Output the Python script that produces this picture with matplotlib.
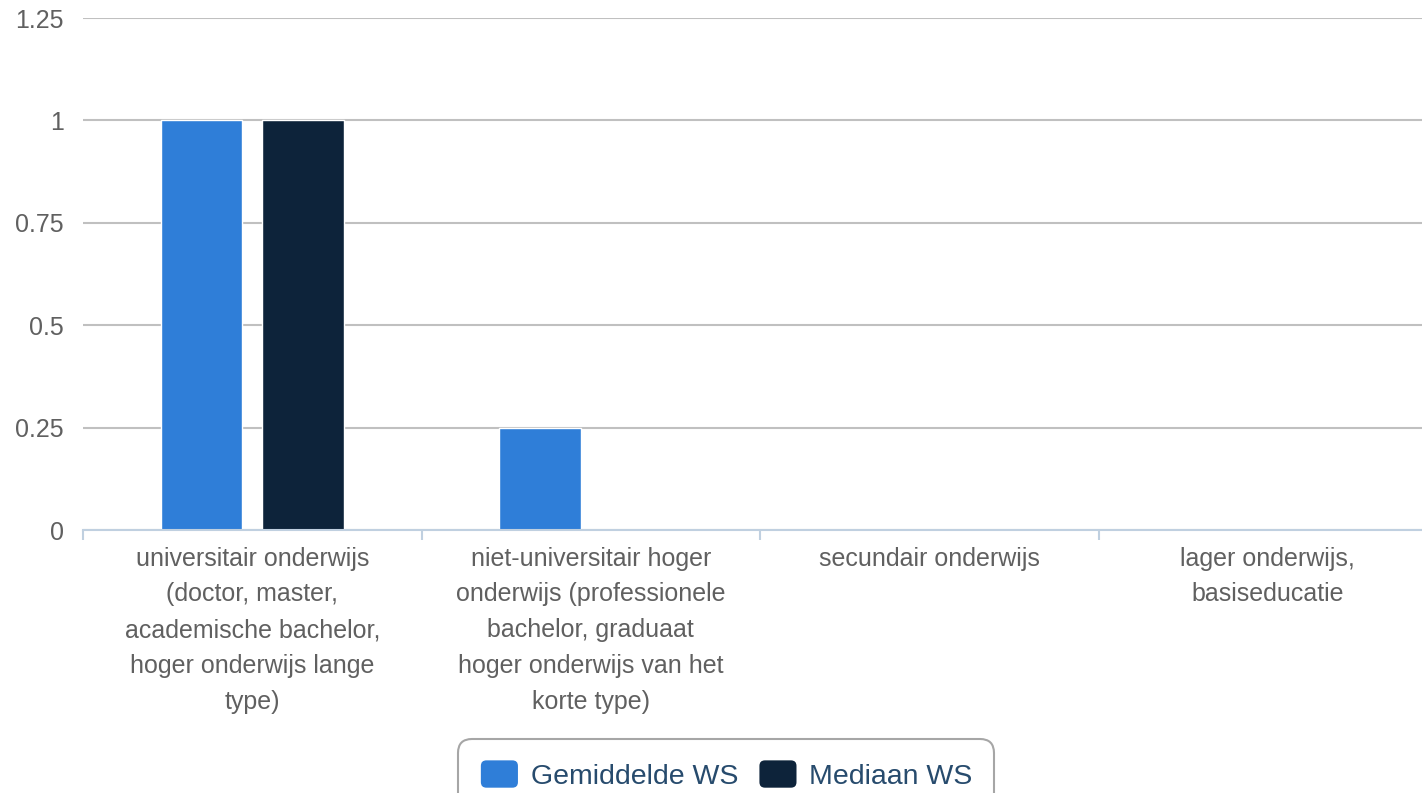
import numpy as np
import matplotlib.pyplot as plt
from matplotlib.patches import Patch, FancyBboxPatch
from matplotlib.legend_handler import HandlerPatch

plt.rcParams['font.family'] = ['Liberation Sans', 'DejaVu Sans']

categories = [
    'universitair onderwijs\n(doctor, master,\nacademische bachelor,\nhoger onderwijs lange\ntype)',
    'niet-universitair hoger\nonderwijs (professionele\nbachelor, graduaat\nhoger onderwijs van het\nkorte type)',
    'secundair onderwijs',
    'lager onderwijs,\nbasiseducatie',
]
gemiddelde = [1, 0.25, 0, 0]
mediaan = [1, 0, 0, 0]
series_names = ['Gemiddelde WS', 'Mediaan WS']
colors = ['#2f7ed8', '#0d233a']
yticks = [0, 0.25, 0.5, 0.75, 1, 1.25]
ytick_labels = ['0', '0.25', '0.5', '0.75', '1', '1.25']

W, H = 1422, 793
fig = plt.figure(figsize=(W / 100, H / 100), dpi=100)
ax = fig.add_axes([83 / W, (H - 530) / H, (1437 - 83) / W, 512 / H])

x = np.arange(len(categories))
ax.bar(x - 0.15, gemiddelde, 0.24, color=colors[0], edgecolor='white', linewidth=1, zorder=3)
ax.bar(x + 0.15, mediaan, 0.24, color=colors[1], edgecolor='white', linewidth=1, zorder=3)

ax.set_xlim(-0.5, len(categories) - 0.5)
ax.set_ylim(0, 1.25)
ax.set_yticks(yticks)
ax.set_yticklabels(ytick_labels)
ax.yaxis.grid(True, color='#c0c0c0', linewidth=1.5, zorder=0)
ax.set_axisbelow(True)
for s in ['top', 'right', 'left']:
    ax.spines[s].set_visible(False)
ax.spines['bottom'].set_color('#c0d0e0')
ax.spines['bottom'].set_linewidth(1.5)
ax.spines['bottom'].set_zorder(4)

ax.set_xticks(x)
ax.set_xticklabels(categories, linespacing=1.62, va='top')
ax.set_xticks(np.arange(-0.5, len(categories)), minor=True)
ax.tick_params(axis='x', which='major', length=0, pad=12, labelsize=18, labelcolor='#606060')
ax.tick_params(axis='x', which='minor', length=7, width=1.5, color='#c0d0e0')
ax.tick_params(axis='y', length=0, pad=14, labelsize=18, labelcolor='#606060')
for t in ax.get_yticklabels():
    t.set_clip_on(False)


def rounded(legend, orig_handle, xdescent, ydescent, width, height, fontsize):
    return FancyBboxPatch((-xdescent + 1, -ydescent), width - 2, height,
                          boxstyle='round,pad=0,rounding_size=4')


handles = [Patch(facecolor=c, edgecolor='none') for c in colors]
leg = fig.legend(handles, series_names, loc='upper center',
                 bbox_to_anchor=(726 / W, 1 - 739 / H), ncol=2,
                 fontsize=20.5, frameon=True, fancybox=True,
                 edgecolor='#909090', handlelength=1.4, handleheight=1.1,
                 handletextpad=0.4, columnspacing=0.7, borderpad=0.75,
                 borderaxespad=0,
                 handler_map={Patch: HandlerPatch(patch_func=rounded)})
leg.get_frame().set_linewidth(1.5)
leg.get_frame().set_boxstyle('round,pad=0,rounding_size=0.5')
for t in leg.get_texts():
    t.set_color('#274b6d')

fig.savefig('out.png', dpi=100)
